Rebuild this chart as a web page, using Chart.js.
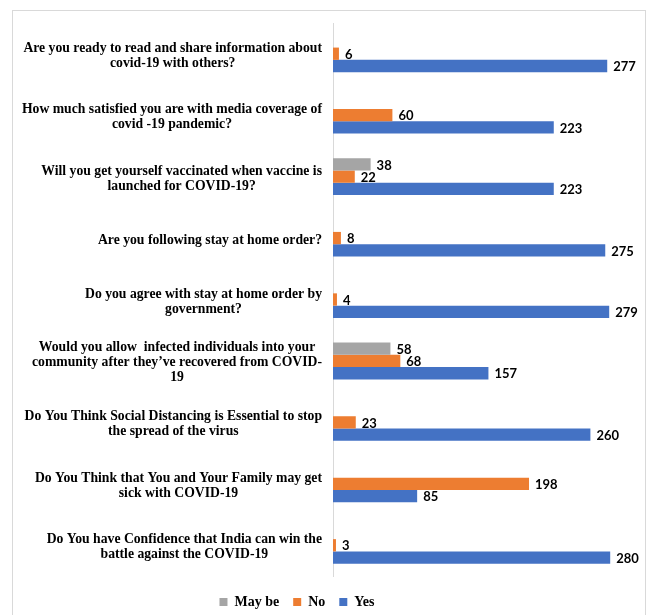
<!DOCTYPE html>
<html>
<head>
<meta charset="utf-8">
<script src="https://cdn.jsdelivr.net/npm/chart.js@4/dist/chart.umd.min.js"></script>
<style>
  html, body { margin: 0; padding: 0; background: #fff; overflow: hidden; }
  #wrap { position: relative; width: 650px; height: 640px; }
</style>
</head>
<body>
<div id="wrap"><canvas id="myChart"></canvas></div>
<script>
// question labels, one array of wrapped lines per category
var questions = [
  ["Are you ready to read and share information about", "covid-19 with others?"],
  ["How much satisfied you are with media coverage of", "covid -19 pandemic?"],
  ["Will you get yourself vaccinated when vaccine is", "launched for COVID-19?"],
  ["Are you following stay at home order?"],
  ["Do you agree with stay at home order by", "government?"],
  ["Would you allow  infected individuals into your", "community after they\u2019ve recovered from COVID-", "19"],
  ["Do You Think Social Distancing is Essential to stop", "the spread of the virus"],
  ["Do You Think that You and Your Family may get", "sick with COVID-19"],
  ["Do You have Confidence that India can win the", "battle against the COVID-19"]
];
var seriesNames = ["May be", "No", "Yes"];
var maybeValues = [null, null, 38, null, null, 58, null, null, null];
var noValues = [6, 60, 22, 8, 4, 68, 23, 198, 3];
var yesValues = [277, 223, 223, 275, 279, 157, 260, 85, 280];

var ctx = document.getElementById("myChart").getContext("2d");

// frame round the chart + wrapped question labels + value labels
var decorations = {
  id: "decorations",
  afterLayout: function (chart) {
    // legend sits a little left of centre in the original
    chart.legend.right -= 36;
  },
  beforeDraw: function (chart) {
    var c = chart.ctx;
    c.save();
    c.strokeStyle = "#d9d9d9";
    c.lineWidth = 1;
    c.strokeRect(12.5, 10.5, 633, 700);
    c.restore();
  },
  afterDraw: function (chart) {
    var c = chart.ctx;
    var y = chart.scales.y;
    c.save();
    c.fillStyle = "#000";
    c.textBaseline = "middle";
    c.textAlign = "center";
    c.font = 'bold 13.7px "Liberation Serif"';
    questions.forEach(function (lines, i) {
      var yc = y.getPixelForValue(i) + 2;
      var w = Math.max.apply(null, lines.map(function (l) { return c.measureText(l).width; }));
      var xc = chart.chartArea.left - 11 - w / 2;
      lines.forEach(function (l, j) {
        c.fillText(l, xc, yc + (j - (lines.length - 1) / 2) * 15);
      });
    });
    c.textAlign = "left";
    c.font = 'bold 13px Lato';
    chart.data.datasets.forEach(function (ds, di) {
      var meta = chart.getDatasetMeta(di);
      meta.data.forEach(function (bar, i) {
        var v = ds.data[i];
        if (v === null || v === undefined) return;
        c.fillText(String(v), bar.x + 6, bar.y + 1);
      });
    });
    c.restore();
  }
};

var myChart = new Chart(ctx, {
  type: "bar",
  data: {
    labels: questions,
    datasets: [
      { label: seriesNames[0], data: maybeValues, backgroundColor: "#A5A5A5" },
      { label: seriesNames[1], data: noValues, backgroundColor: "#ED7D31" },
      { label: seriesNames[2], data: yesValues, backgroundColor: "#4472C4" }
    ]
  },
  options: {
    indexAxis: "y",
    responsive: true,
    maintainAspectRatio: false,
    animation: false,
    categoryPercentage: 0.6,
    barPercentage: 1,
    layout: { padding: { left: 0, right: 20, top: 23, bottom: 21 } },
    scales: {
      x: {
        display: true,
        min: 0,
        max: 300,
        grid: { display: false },
        border: { display: false },
        ticks: { display: false },
        afterFit: function (s) { s.height = 5; }
      },
      y: {
        grid: { display: false },
        border: { display: true, color: "#d9d9d9", width: 1 },
        ticks: { display: false },
        afterFit: function (s) { s.width = 333; }
      }
    },
    plugins: {
      legend: {
        display: true,
        position: "bottom",
        labels: {
          usePointStyle: true,
          pointStyle: "rect",
          boxWidth: 8,
          boxHeight: 8,
          padding: 14,
          color: "#000",
          font: { family: '"Liberation Serif"', size: 14, weight: "bold" }
        }
      },
      tooltip: { enabled: false }
    }
  },
  plugins: [decorations]
});
</script>
</body>
</html>
